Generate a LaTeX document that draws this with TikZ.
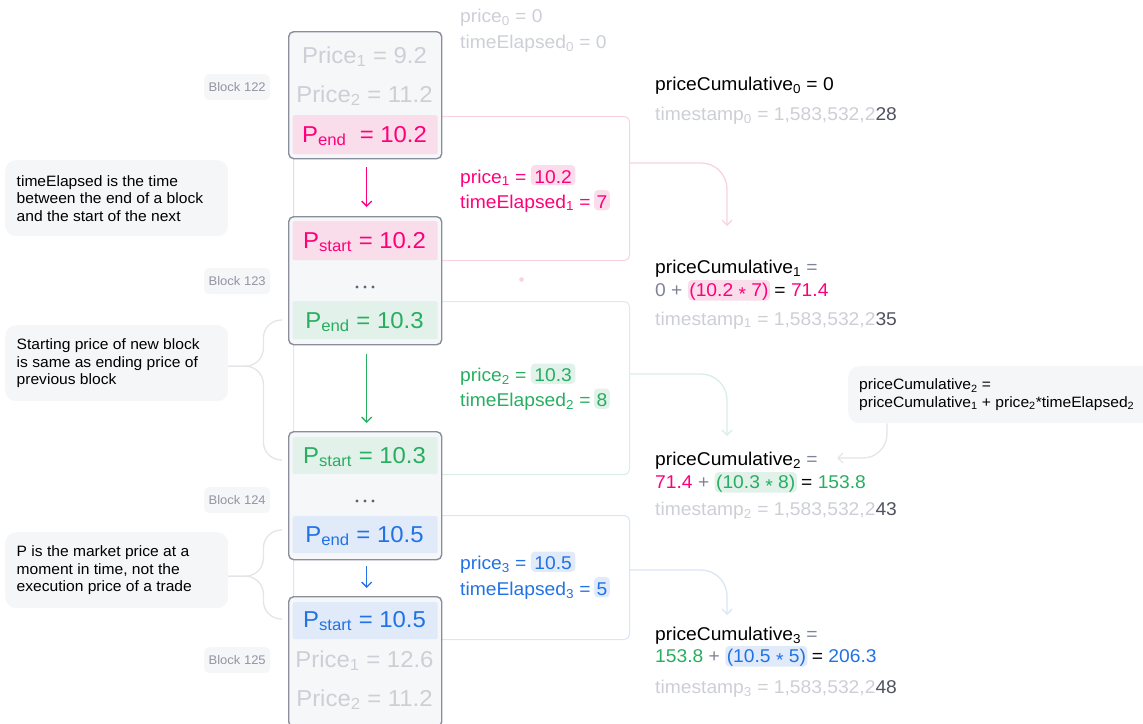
\documentclass[tikz,border=0pt]{standalone}
\usepackage{fontspec}
\setmainfont{Liberation Sans}[FakeStretch=1.04]
\usetikzlibrary{arrows.meta}

\newcommand\lo[1]{\textsubscript{#1}}
\newcommand\mul{\raisebox{-0.22em}{*}}

\definecolor{upink}{HTML}{FF007A}
\definecolor{upinkbg}{HTML}{FADDEB}
\definecolor{upinkline}{HTML}{F8D2E3}
\definecolor{ugreen}{HTML}{27AE60}
\definecolor{ugreenbg}{HTML}{E2F1E9}
\definecolor{ugreenline}{HTML}{D8EEE3}
\definecolor{ublue}{HTML}{2172E5}
\definecolor{ubluebg}{HTML}{E0EAF8}
\definecolor{ublueline}{HTML}{DAE5F6}
\definecolor{faint}{HTML}{CDCFD6}
\definecolor{midgray}{HTML}{7E8398}
\definecolor{darkgray}{HTML}{50535F}
\definecolor{boxedge}{HTML}{8A8E9C}
\definecolor{boxfill}{HTML}{F6F7F9}
\definecolor{bubble}{HTML}{F5F6F8}
\definecolor{tagtext}{HTML}{9195A3}
\definecolor{wire}{HTML}{E4E4E9}
\definecolor{dots}{HTML}{5E6170}

\tikzset{
  blockbox/.style={draw=boxedge, line width=1.4pt, fill=boxfill, rounded corners=5pt,
    anchor=north west, inner sep=0, minimum width=153pt},
  band/.style={fill=#1, rounded corners=2pt, anchor=north west, inner sep=0,
    minimum width=145pt},
  frame/.style={draw=#1, line width=1pt, rounded corners=5pt, anchor=north west, inner sep=0},
  big/.style={font=\fontsize{23}{27}\selectfont, inner sep=0, anchor=base},
  mid/.style={font=\fontsize{18.5}{22}\selectfont, inner sep=0, anchor=base west},
  hl/.style={fill=#1, rounded corners=4pt, inner xsep=3.5pt, inner ysep=2pt,
    text height=16pt, text depth=0.3pt, anchor=base west},
  hlr/.style={fill=#1, rounded corners=4pt, inner xsep=1.5pt, inner ysep=2pt,
    text height=14.5pt, text depth=2pt, anchor=base west},
  flow/.style={draw=#1, line width=1.3pt, -{Straight Barb[length=5pt,width=10pt]}},
  link/.style={draw=#1, line width=1.3pt, rounded corners=26pt,
    -{Straight Barb[length=5pt,width=10pt]}},
  brace/.style={draw=wire, line width=1.3pt, rounded corners=18pt},
  note/.style={fill=bubble, rounded corners=11pt, anchor=north west, inner sep=0},
  notetext/.style={font=\fontsize{15}{17.5}\selectfont, align=left, inner sep=0, anchor=west},
  tag/.style={fill=bubble, rounded corners=5pt, anchor=north west, inner sep=0,
    minimum width=66pt, minimum height=26pt, text=tagtext,
    font=\fontsize{12.5}{14}\selectfont},
}

\begin{document}
\begin{tikzpicture}[x=1pt,y=-1pt]
\useasboundingbox (0,0) rectangle (1143,723);
\clip (0,0) rectangle (1143,723);

% coloured frames joining each end/start pair (behind the blocks)
\node[frame=upinkline, minimum width=336pt, minimum height=144pt] (fr1) at (293,116) {};
\node[frame=ugreenline, minimum width=336pt, minimum height=173pt] (fr2) at (293,301) {};
\node[frame=ublueline, minimum width=336pt, minimum height=124pt] (fr3) at (293,515) {};
\fill[upinkline] (521.5,279.5) circle (2.3);

% connectors from the frames to the cumulative values
\coordinate (t1) at (727,226);
\coordinate (t2) at (727,436);
\coordinate (t3) at (727,615);
\draw[link=upinkline] ([yshift=-47pt]fr1.north east) -| (t1);
\draw[link=ugreenline] ([yshift=-73pt]fr2.north east) -| (t2);
\draw[link=ublueline] ([yshift=-55pt]fr3.north east) -| (t3);

% blocks
\node[blockbox, minimum height=127pt] (blk122) at (288,31) {};
\node[blockbox, minimum height=128pt] (blk123) at (288,216) {};
\node[blockbox, minimum height=128pt] (blk124) at (288,431) {};
\node[blockbox, minimum height=130pt] (blk125) at (288,596) {};

% highlighted rows
\node[band=upinkbg, minimum height=39pt] (r122e) at (292.5,115) {};
\node[band=upinkbg, minimum height=39pt] (r123s) at (292.5,221) {};
\node[band=ugreenbg, minimum height=38pt] (r123e) at (292.5,301) {};
\node[band=ugreenbg, minimum height=37pt] (r124s) at (292.5,437) {};
\node[band=ubluebg, minimum height=37pt] (r124e) at (292.5,516) {};
\node[band=ubluebg, minimum height=37pt] (r125s) at (292.5,602) {};

% block contents
\node[big, text=faint] (p122a) at (364.5,63) {Price\lo{1} = 9.2};
\node[big, text=faint] (p122b) at (364.5,102) {Price\lo{2} = 11.2};
\node[big, text=upink] (p122e) at (364.5,142) {P\lo{end}\ \ = 10.2};
\node[big, text=upink] (p123s) at (364.5,248) {P\lo{start} = 10.2};
\node[big, text=ugreen] (p123e) at (364.5,328) {P\lo{end} = 10.3};
\node[big, text=ugreen] (p124s) at (364.5,463) {P\lo{start} = 10.3};
\node[big, text=ublue] (p124e) at (364.5,542) {P\lo{end} = 10.5};
\node[big, text=ublue] (p125s) at (364.5,627) {P\lo{start} = 10.5};
\node[big, text=faint] (p125a) at (364.5,667) {Price\lo{1} = 12.6};
\node[big, text=faint] (p125b) at (364.5,706) {Price\lo{2} = 11.2};
\foreach \dx in {-8,0,8} {
  \fill[dots] (365+\dx,287) circle (1.6);
  \fill[dots] (365+\dx,501) circle (1.6);
}

% arrows between blocks
\draw[flow=upink] ([xshift=1.5pt,yshift=-8pt]blk122.south) -- ([xshift=1.5pt,yshift=9pt]blk123.north);
\draw[flow=ugreen] ([xshift=1.5pt,yshift=-9pt]blk123.south) -- ([xshift=1.5pt,yshift=8pt]blk124.north);
\draw[flow=ublue] ([xshift=1.5pt,yshift=-6pt]blk124.south) -- ([xshift=1.5pt,yshift=8pt]blk125.north);

% block tags
\node[tag] (tag122) at (204,74) {Block 122};
\node[tag] (tag123) at (204,268) {Block 123};
\node[tag] (tag124) at (204,487) {Block 124};
\node[tag] (tag125) at (204,647) {Block 125};

% notes on the left
\node[note, minimum width=223pt, minimum height=76pt] (b1) at (5,160) {};
\node[notetext] (b1t) at ([xshift=11.5pt]b1.west) {timeElapsed is the time\\between the end of a block\\and the start of the next};
\node[note, minimum width=223pt, minimum height=76pt] (b2) at (5,325) {};
\node[notetext] (b2t) at ([xshift=11.5pt]b2.west) {Starting price of new block\\is same as ending price of\\previous block};
\node[note, minimum width=223pt, minimum height=76pt] (b3) at (5,532) {};
\node[notetext] (b3t) at ([xshift=11.5pt]b3.west) {P is the market price at a\\moment in time, not the\\execution price of a trade};

\coordinate (e2a) at (282,320);
\coordinate (e2b) at (282,460);
\coordinate (e3a) at (282,530);
\coordinate (e3b) at (282,619);
\draw[brace] ([yshift=-3pt]b2.east) -- ++(35,0) |- (e2a);
\draw[brace] ([yshift=-3pt]b2.east) -- ++(35,0) |- (e2b);
\draw[brace] ([yshift=-6pt]b3.east) -- ++(35,0) |- (e3a);
\draw[brace] ([yshift=-6pt]b3.east) -- ++(35,0) |- (e3b);

% per-block price and elapsed time
\node[mid, text=faint] (m0a) at (460,22) {price\lo{0} = 0};
\node[mid, text=faint] (m0b) at (460,48) {timeElapsed\lo{0} = 0};
\node[mid, text=upink] (m1a) at (460,183) {price\lo{1} =};
\node[mid, hl=upinkbg, text=upink] (m1av) at ([xshift=4pt]m1a.base east) {10.2};
\node[mid, text=upink] (m1b) at (460,208) {timeElapsed\lo{1} =};
\node[mid, hl=upinkbg, text=upink, inner xsep=2.5pt] (m1bv) at ([xshift=3pt]m1b.base east) {7};
\node[mid, text=ugreen] (m2a) at (460,381.5) {price\lo{2} =};
\node[mid, hl=ugreenbg, text=ugreen] (m2av) at ([xshift=4pt]m2a.base east) {10.3};
\node[mid, text=ugreen] (m2b) at (460,406.5) {timeElapsed\lo{2} =};
\node[mid, hl=ugreenbg, text=ugreen, inner xsep=2.5pt] (m2bv) at ([xshift=3pt]m2b.base east) {8};
\node[mid, text=ublue] (m3a) at (460,569.5) {price\lo{3} =};
\node[mid, hl=ubluebg, text=ublue] (m3av) at ([xshift=4pt]m3a.base east) {10.5};
\node[mid, text=ublue] (m3b) at (460,595) {timeElapsed\lo{3} =};
\node[mid, hl=ubluebg, text=ublue, inner xsep=2.5pt] (m3bv) at ([xshift=3pt]m3b.base east) {5};

% cumulative prices and timestamps
\node[mid] (c0) at (655,90.5) {priceCumulative\lo{0} = 0};
\node[mid, text=faint] (s0) at (655,120.5) {timestamp\lo{0} = 1,583,532,2\textcolor{darkgray}{28}};

\node[mid] (c1) at (655,273.5) {priceCumulative\lo{1} \textcolor{midgray}{=}};
\node[mid, text=midgray] (c1a) at (655,296.5) {0 +};
\node[mid, hlr=upinkbg, text=upink] (c1b) at ([xshift=5pt]c1a.base east) {(10.2 \mul{} 7)};
\node[mid] (c1c) at ([xshift=4pt]c1b.base east) {= \textcolor{upink}{71.4}};
\node[mid, text=faint] (s1) at (655,325) {timestamp\lo{1} = 1,583,532,2\textcolor{darkgray}{35}};

\node[mid] (c2) at (655,465) {priceCumulative\lo{2} \textcolor{midgray}{=}};
\node[mid, text=upink] (c2a) at (655,488.5) {71.4 \textcolor{midgray}{+}};
\node[mid, hlr=ugreenbg, text=ugreen] (c2b) at ([xshift=5pt]c2a.base east) {(10.3 \mul{} 8)};
\node[mid] (c2c) at ([xshift=4pt]c2b.base east) {= \textcolor{ugreen}{153.8}};
\node[mid, text=faint] (s2) at (655,515.5) {timestamp\lo{2} = 1,583,532,2\textcolor{darkgray}{43}};

\node[mid] (c3) at (655,640) {priceCumulative\lo{3} \textcolor{midgray}{=}};
\node[mid, text=ugreen] (c3a) at (655,662.5) {153.8 \textcolor{midgray}{+}};
\node[mid, hlr=ubluebg, text=ublue] (c3b) at ([xshift=5pt]c3a.base east) {(10.5 \mul{} 5)};
\node[mid] (c3c) at ([xshift=4pt]c3b.base east) {= \textcolor{ublue}{206.3}};
\node[mid, text=faint] (s3) at (655,693.5) {timestamp\lo{3} = 1,583,532,2\textcolor{darkgray}{48}};

% formula note on the right
\node[note, minimum width=310pt, minimum height=57pt] (rc) at (848,366) {};
\node[notetext] (rct) at ([xshift=11pt]rc.west) {priceCumulative\lo{2} =\\priceCumulative\lo{1} + price\lo{2}*timeElapsed\lo{2}};
\coordinate (t4) at (837,458);
\draw[link=wire, rounded corners=24pt] ([xshift=39pt]rc.south west) |- (t4);
\end{tikzpicture}
\end{document}
